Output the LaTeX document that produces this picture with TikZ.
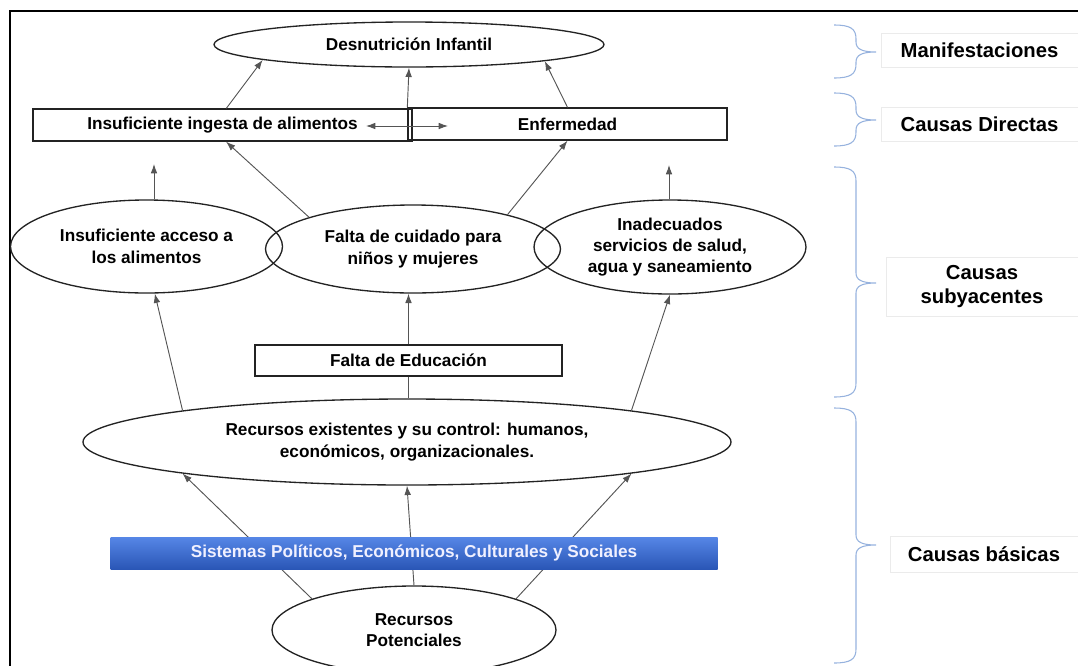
\documentclass[tikz,border=0pt]{standalone}
\usepackage{fontspec}
\setmainfont{Liberation Sans}
\usepackage{xcolor}
\definecolor{ColLine}{RGB}{35,35,35}
\definecolor{ColArrow}{RGB}{85,85,85}
\definecolor{ColBrace}{RGB}{150,178,222}
\definecolor{ColBarTop}{RGB}{86,134,230}
\definecolor{ColBarBot}{RGB}{42,86,182}
\definecolor{ColFaint}{RGB}{235,235,235}
\usetikzlibrary{shapes.geometric}
\usetikzlibrary{arrows.meta}
\newdimen\pxu \pxu=0.75pt
\tikzstyle{Oval}=[ellipse,draw=ColLine,line width=1pt,inner sep=0pt,
align=center,font=\bfseries\fontsize{12.9}{16}\selectfont]
\tikzstyle{Box}=[rectangle,draw=ColLine,line width=1pt,inner sep=0pt,
align=center,font=\bfseries\fontsize{12.9}{16}\selectfont]
\tikzstyle{Bar}=[rectangle,top color=ColBarTop,bottom color=ColBarBot,
inner sep=0pt,text=white!94!blue,font=\bfseries\fontsize{12.9}{16}\selectfont]
\tikzstyle{Level}=[rectangle,draw=ColFaint,fill=white,line width=0.4pt,
inner sep=0pt,align=center,font=\bfseries\fontsize{15.2}{18}\selectfont]
\tikzstyle{Edge}=[draw=ColArrow,line width=0.7pt,
-{Latex[length=7pt,width=5pt]}]
\tikzstyle{EdgeBoth}=[Edge,{Latex[length=7pt,width=5pt]}-{Latex[length=7pt,width=5pt]}]
\tikzstyle{EdgePlain}=[draw=ColArrow,line width=0.7pt]
\tikzstyle{BraceLine}=[draw=ColBrace,line width=0.8pt]
% brace at the right: top, tip, bottom
\newcommand{\LevelBrace}[3]{%
  \draw[BraceLine](834,#1)..controls(851,#1)and(856,{#1+4})..(856,{#1+14})
    --(856,{#2-10})..controls(856,{#2-3})and(862,#2)..(876,#2)
    ..controls(862,#2)and(856,{#2+3})..(856,{#2+10})
    --(856,{#3-14})..controls(856,{#3-4})and(851,#3)..(834,#3);}

\begin{document}
\begin{tikzpicture}[x=0.75pt,y=-0.75pt]
    \useasboundingbox(0,0)rectangle(1078,665);
    \clip(0,0)rectangle(1078,665);
    \draw[line width=1.4pt](9.7,690)--(9.7,11)--(1100,11);
    \node[Oval,minimum width=390\pxu,minimum height=45\pxu](desnut)
        at(409,44.5){Desnutrición Infantil};
    \node[Box,minimum width=379\pxu,minimum height=32\pxu](ingesta)
        at(222.5,125){Insuficiente ingesta de alimentos};
    \node[Box,minimum width=319\pxu,minimum height=32\pxu](enferm)
        at(567.5,124){Enfermedad};
    \node[Oval,minimum width=272\pxu,minimum height=93\pxu](acceso)
        at(146.5,246.5){Insuficiente acceso a\\los alimentos};
    \node[Oval,minimum width=295\pxu,minimum height=88\pxu](falta)
        at(413,249){Falta de cuidado para\\niños y mujeres};
    \node[Oval,minimum width=272\pxu,minimum height=94\pxu](inadec)
        at(670,247){Inadecuados\\servicios de salud,\\agua y saneamiento};
    \node[Box,minimum width=307\pxu,minimum height=31\pxu](educ)
        at(408.5,360.5){Falta de Educación};
    \node[Oval,minimum width=648\pxu,minimum height=86\pxu](existen)
        at(407,442){Recursos existentes y su control: humanos,\\
        económicos, organizacionales.};
    \node[Oval,minimum width=284\pxu,minimum height=88\pxu](potenc)
        at(414,630){Recursos\\Potenciales};
    \coordinate(dl)at(366,126);
    \coordinate(dr)at(448,126);
    \coordinate(uacc)at(154,164);
    \coordinate(uinad)at(669,165);
    \draw[Edge](ingesta.77.7)--(desnut.186.5);
    \draw[Edge](enferm.north west)--(desnut.south);
    \draw[Edge](enferm.north)--(desnut.353.5);
    \draw[EdgeBoth](dl)--(dr);
    \draw[Edge](acceso.north-|uacc)--(uacc);
    \draw[Edge](inadec.north-|uinad)--(uinad);
    \draw[Edge](falta.163)--(ingesta.282);
    \draw[Edge](falta.20)--(enferm.south);
    \draw[Edge](educ.north)--(educ.north|-falta.south);
    \draw[EdgePlain](educ.south)--(educ.south|-existen.north);
    \draw[Edge](existen.172)--(acceso.280);
    \draw[Edge](existen.8)--(inadec.south);
    \draw[Edge](potenc.163)--(existen.188);
    \draw[Edge](potenc.north)--(existen.south);
    \draw[Edge](potenc.17)--(existen.352);
    \node[Bar,minimum width=607\pxu,minimum height=32\pxu](sistemas)
        at(414,553){Sistemas Políticos, Económicos, Culturales y Sociales};
    \LevelBrace{25}{52}{78}
    \LevelBrace{93}{120}{146}
    \LevelBrace{167}{283}{397}
    \LevelBrace{408}{545}{663}
    \node[Level,minimum width=197\pxu,minimum height=34\pxu](manif)
        at(979.5,50){Manifestaciones};
    \node[Level,minimum width=197\pxu,minimum height=34\pxu](directas)
        at(979.5,124){Causas Directas};
    \node[Level,minimum width=192\pxu,minimum height=59\pxu](subyac)
        at(982,286.5){Causas\\subyacentes};
    \node[Level,minimum width=188\pxu,minimum height=36\pxu](basicas)
        at(984,554){Causas básicas};
\end{tikzpicture}
\end{document}
